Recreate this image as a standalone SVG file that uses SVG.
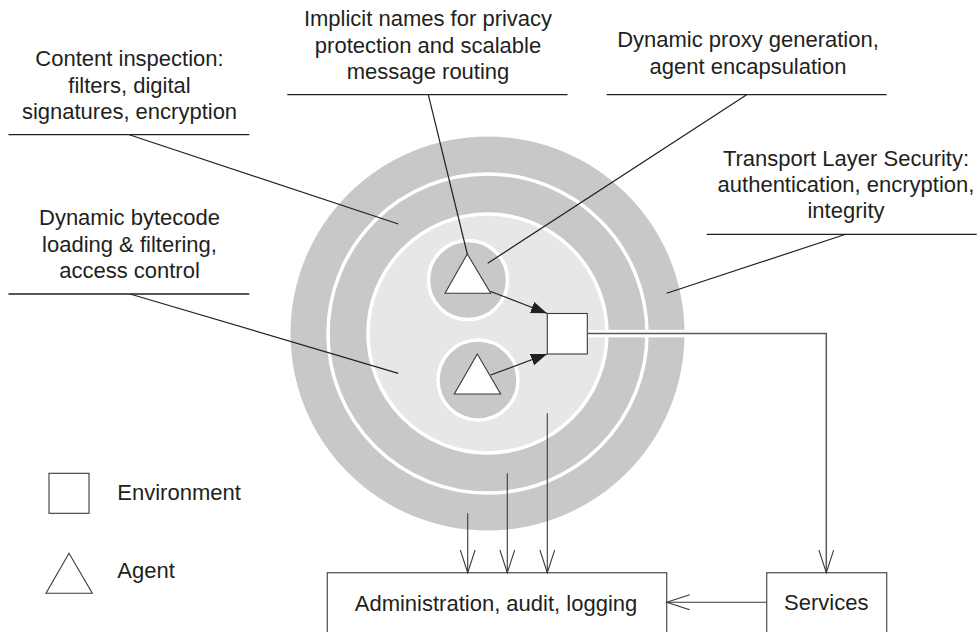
<svg xmlns="http://www.w3.org/2000/svg" width="977" height="632" viewBox="0 0 977 632">
  <style>
    .t { font-family: "Liberation Sans", Arial, sans-serif; font-size: 22px; fill: #231f20; }
    .c { text-anchor: middle; }
    .lead { stroke: #231f20; stroke-width: 1.2; fill: none; }
    .under { stroke: #231f20; stroke-width: 1.3; fill: none; }
    .flow { stroke: #3a3a3a; stroke-width: 1.1; fill: none; }
    .box { fill: #ffffff; stroke: #58595b; stroke-width: 1.3; }
    .shape { fill: #ffffff; stroke: #3a3a3a; stroke-width: 1.1; }
  </style>
  <defs>
    <marker id="open" markerUnits="userSpaceOnUse" markerWidth="26" markerHeight="18" refX="23" refY="8" orient="auto">
      <path d="M0,0.5 L23,8 L0,15.5" fill="none" stroke="#3a3a3a" stroke-width="1.1"/>
    </marker>
    <marker id="solid" markerUnits="userSpaceOnUse" markerWidth="18" markerHeight="14" refX="16" refY="6" orient="auto">
      <path d="M0,0 L16,6 L0,12 Z" fill="#231f20"/>
    </marker>
  </defs>
  <rect width="977" height="632" fill="#ffffff"/>

  <g id="security-layers">
    <circle cx="487.5" cy="333.5" r="197" fill="#c7c8ca"/>
    <circle cx="487.5" cy="333.5" r="159.5" fill="none" stroke="#ffffff" stroke-width="3.5"/>
    <circle cx="487.5" cy="333.5" r="119.5" fill="#e6e7e8" stroke="#ffffff" stroke-width="3.5"/>
    <circle cx="468" cy="280" r="39.5" fill="#c7c8ca" stroke="#ffffff" stroke-width="3.5"/>
    <circle cx="478" cy="380" r="40" fill="#c7c8ca" stroke="#ffffff" stroke-width="3.5"/>
    <rect x="587" y="329.8" width="100" height="7.6" fill="#ffffff"/>
  </g>

  <g id="agent-1">
    <polygon class="shape" points="467.3,254 445,293.3 490.7,293.3"/>
  </g>
  <g id="agent-2">
    <polygon class="shape" points="477.3,354 454.3,394 500.7,394"/>
  </g>
  <g id="environment">
    <rect class="shape" x="547.3" y="313.5" width="40" height="40.5"/>
  </g>

  <g id="admin">
    <rect class="box" x="327.3" y="572.7" width="339.4" height="80"/>
    <text class="t c" x="496" y="610.5">Administration, audit, logging</text>
  </g>
  <g id="services">
    <rect class="box" x="766.7" y="572.7" width="120" height="80"/>
    <text class="t c" x="826.3" y="610">Services</text>
  </g>

  <g id="legend">
    <rect class="shape" x="49" y="473.3" width="40" height="40"/>
    <text class="t" x="117.3" y="500">Environment</text>
    <polygon class="shape" points="69,553.3 46,593.3 92.3,593.3"/>
    <text class="t" x="117.3" y="578">Agent</text>
  </g>

  <g id="label-content">
    <text class="t c" x="129.5" y="66">Content inspection:</text>
    <text class="t c" x="129.5" y="92.5">filters, digital</text>
    <text class="t c" x="129.5" y="119">signatures, encryption</text>
    <line class="under" x1="8.5" y1="134.7" x2="249.3" y2="134.7"/>
  </g>
  <g id="label-bytecode">
    <text class="t c" x="129.5" y="225">Dynamic bytecode</text>
    <text class="t c" x="129.5" y="251.5">loading &amp; filtering,</text>
    <text class="t c" x="129.5" y="278">access control</text>
    <line class="under" x1="8.5" y1="294" x2="249.3" y2="294"/>
  </g>
  <g id="label-implicit">
    <text class="t c" x="428" y="26">Implicit names for privacy</text>
    <text class="t c" x="428" y="52.5">protection and scalable</text>
    <text class="t c" x="428" y="79">message routing</text>
    <line class="under" x1="287.3" y1="94.7" x2="567.5" y2="94.7"/>
  </g>
  <g id="label-proxy">
    <text class="t c" x="748" y="47">Dynamic proxy generation,</text>
    <text class="t c" x="748" y="73.5">agent encapsulation</text>
    <line class="under" x1="606.7" y1="94.7" x2="886.7" y2="94.7"/>
  </g>
  <g id="label-transport">
    <text class="t c" x="846" y="166">Transport Layer Security:</text>
    <text class="t c" x="846" y="192">authentication, encryption,</text>
    <text class="t c" x="846" y="218">integrity</text>
    <line class="under" x1="706.7" y1="234.3" x2="976.7" y2="234.3"/>
  </g>

  <g id="connectors">
    <line class="lead" x1="129.3" y1="134.7" x2="398.3" y2="224"/>
    <line class="lead" x1="130" y1="294" x2="398.3" y2="373.3"/>
    <line class="lead" x1="428.3" y1="94.7" x2="467.3" y2="254"/>
    <line class="lead" x1="746.7" y1="94.7" x2="487.7" y2="263.3"/>
    <line class="lead" x1="845.7" y1="234.3" x2="666.7" y2="293.3"/>

    <line class="lead" x1="490.7" y1="291.5" x2="547" y2="313.3" marker-end="url(#solid)"/>
    <line class="lead" x1="490.7" y1="375" x2="547" y2="354" marker-end="url(#solid)"/>

    <polyline points="587.3,333.5 826.3,333.5 826.3,572.7" fill="none" stroke="#58595b" stroke-width="1.5" marker-end="url(#open)"/>
    <line class="flow" x1="467.7" y1="513.3" x2="467.7" y2="572.7" marker-end="url(#open)"/>
    <line class="flow" x1="507.3" y1="473.3" x2="507.3" y2="572.7" marker-end="url(#open)"/>
    <line class="flow" x1="547.3" y1="413.3" x2="547.3" y2="572.7" marker-end="url(#open)"/>
    <line class="flow" x1="766.7" y1="602.3" x2="666.7" y2="602.3" marker-end="url(#open)"/>
  </g>
</svg>
